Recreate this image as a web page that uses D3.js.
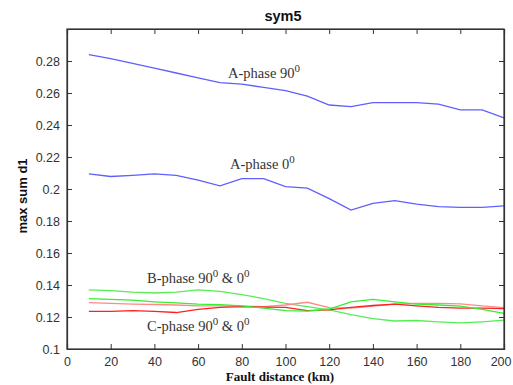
<!DOCTYPE html>
<html><head><meta charset="utf-8">
<script src="https://cdn.jsdelivr.net/npm/d3@7"></script>
<style>body{margin:0;background:#fff}</style>
</head><body>
<svg id="c" width="513" height="385"></svg>
<script>
const distances = [10,20,30,40,50,60,70,80,90,100,110,120,130,140,150,160,170,180,190,200];
const aPhase90 = [0.284,0.2815,0.2785,0.2755,0.2725,0.2695,0.2665,0.2655,0.2635,0.2615,0.258,0.2525,0.2515,0.254,0.254,0.254,0.253,0.2495,0.2495,0.2445];
const aPhase0  = [0.2095,0.2078,0.2085,0.2095,0.2085,0.2055,0.202,0.2065,0.2065,0.2015,0.2005,0.194,0.1868,0.191,0.1927,0.1905,0.189,0.1885,0.1885,0.1895];
const bPhaseA  = [0.137,0.1365,0.1355,0.135,0.1355,0.137,0.136,0.134,0.1315,0.1285,0.1265,0.1245,0.1215,0.119,0.1175,0.1178,0.117,0.1163,0.117,0.118];
const bPhaseB  = [0.1315,0.131,0.1305,0.1295,0.1288,0.128,0.1277,0.127,0.1255,0.124,0.1237,0.125,0.1295,0.131,0.1295,0.128,0.1275,0.1268,0.1248,0.1222];
const cPhaseA  = [0.129,0.1285,0.128,0.1278,0.1275,0.127,0.127,0.1268,0.1265,0.1275,0.1292,0.1258,0.1255,0.1268,0.128,0.1285,0.1285,0.1282,0.127,0.1258];
const cPhaseB  = [0.1235,0.1235,0.124,0.1235,0.1228,0.1248,0.126,0.1265,0.1262,0.126,0.124,0.1245,0.126,0.1272,0.128,0.127,0.126,0.1255,0.1255,0.1252];
const xTicks = [0,20,40,60,80,100,120,140,160,180,200];
const yTicks = [0.1,0.12,0.14,0.16,0.18,0.2,0.22,0.24,0.26,0.28];
const yTickLabels = ["0.1","0.12","0.14","0.16","0.18","0.2","0.22","0.24","0.26","0.28"];

const series = [
  {v: aPhase90, color: "#5f5fff"},
  {v: aPhase0, color: "#5f5fff"},
  {v: bPhaseA, color: "#55ee55"},
  {v: cPhaseA, color: "#ff8a8a"},
  {v: cPhaseB, color: "#ff2020"},
  {v: bPhaseB, color: "#33ee33"}
];

const svg = d3.select("#c");
const L = 67, R = 504, T = 29, B = 349;
const x = d3.scaleLinear().domain([0,200]).range([L,R]);
const y = d3.scaleLinear().domain([0.1,0.3]).range([B,T]);

svg.append("rect").attr("x",L).attr("y",T).attr("width",R-L).attr("height",B-T).attr("fill","#fff");

const line = d3.line().x((d,i)=>x(distances[i])).y(d=>y(d));
series.forEach(s=>{
  svg.append("path").attr("d", line(s.v)).attr("fill","none").attr("stroke", s.color).attr("stroke-width",1.3);
});

const font = "Liberation Sans, Arial, sans-serif";
const axisColor = "#333";
const xb = svg.append("g").attr("transform",`translate(0,${B})`).call(d3.axisBottom(x).tickValues(xTicks).tickSize(-5).tickPadding(8).tickFormat(d3.format("d")));
const xt = svg.append("g").attr("transform",`translate(0,${T})`).call(d3.axisTop(x).tickValues(xTicks).tickSize(-5).tickFormat(""));
const yl = svg.append("g").attr("transform",`translate(${L},0)`).call(d3.axisLeft(y).tickValues(yTicks).tickSize(-5).tickPadding(7).tickFormat((d,i)=>yTickLabels[i]));
const yr = svg.append("g").attr("transform",`translate(${R},0)`).call(d3.axisRight(y).tickValues(yTicks).tickSize(-5).tickFormat(""));
[xb,xt,yl,yr].forEach(g=>{
  g.select(".domain").attr("stroke",axisColor).attr("stroke-width",1.2);
  g.selectAll(".tick line").attr("stroke",axisColor);
  g.selectAll("text").attr("font-family",font).attr("font-size",12.5).attr("fill","#333");
});
// keep last x label inside the window
xb.selectAll(".tick text").filter(d=>d===200).attr("text-anchor","end").attr("dx",7);
svg.append("rect").attr("x",L).attr("y",T).attr("width",R-L).attr("height",B-T).attr("fill","none").attr("stroke",axisColor).attr("stroke-width",1.2);

svg.append("text").attr("x",283).attr("y",21).attr("text-anchor","middle")
  .attr("font-family",font).attr("font-weight","bold").attr("font-size",14.5).attr("fill","#111").text("sym5");
svg.append("text").attr("x",280).attr("y",381).attr("text-anchor","middle")
  .attr("font-family","Liberation Serif, Times New Roman, serif").attr("font-weight","bold").attr("font-size",13).attr("fill","#111").text("Fault distance (km)");
svg.append("text").attr("transform","translate(27,196) rotate(-90)").attr("text-anchor","middle")
  .attr("font-family",font).attr("font-weight","bold").attr("font-size",13).attr("fill","#111").text("max sum d1");

function ann(px, py, parts){
  const t = svg.append("text").attr("x",px).attr("y",py)
    .attr("font-family","Liberation Serif, Times New Roman, serif").attr("font-size",14.5).attr("fill","#333");
  parts.forEach(p=>{
    const s = t.append("tspan").text(p[0]);
    if(p[1]) s.attr("baseline-shift","super").attr("font-size",11);
  });
}
ann(228, 78, [["A-phase 90"],["0",1]]);
ann(230, 169, [["A-phase 0"],["0",1]]);
ann(147, 283, [["B-phase 90"],["0",1],[" & 0"],["0",1]]);
ann(147, 331, [["C-phase 90"],["0",1],[" & 0"],["0",1]]);
</script>
</body></html>
